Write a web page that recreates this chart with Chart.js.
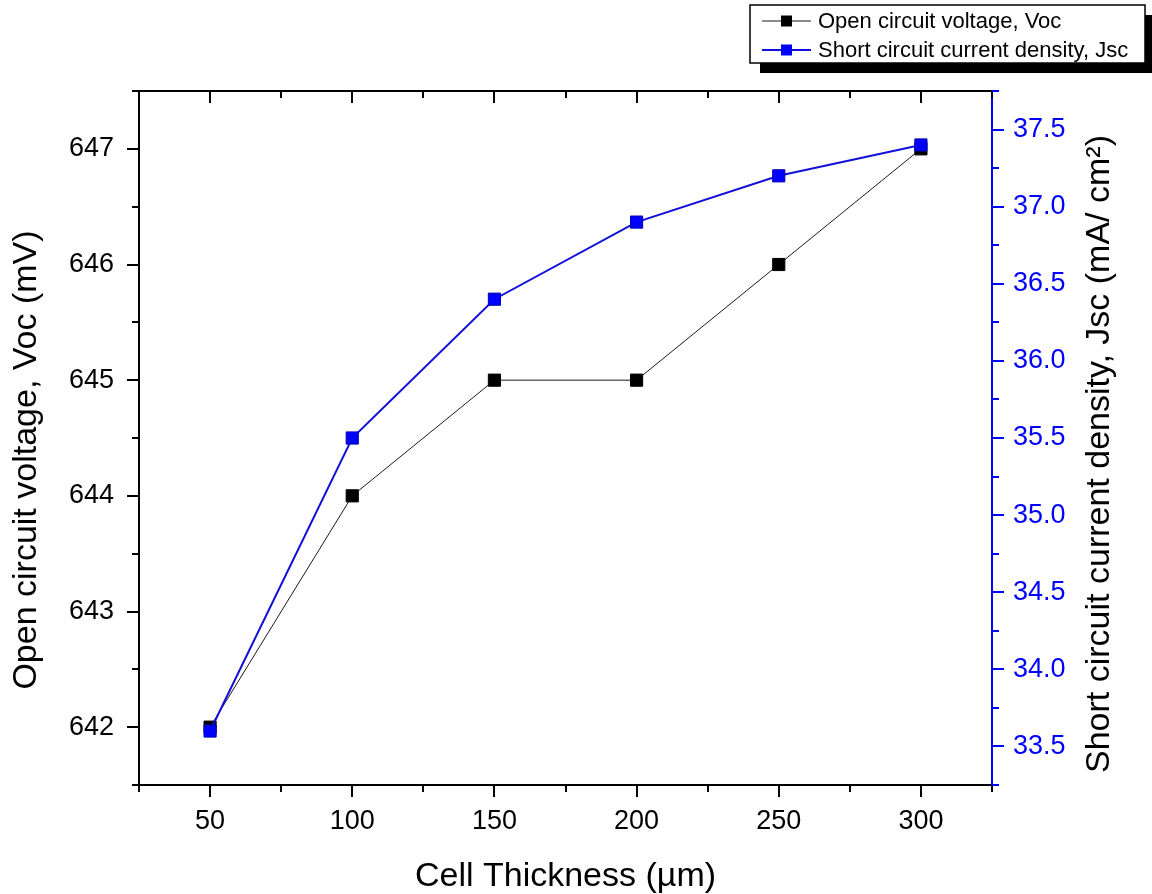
<!DOCTYPE html>
<html>
<head>
<meta charset="utf-8">
<script src="https://cdn.jsdelivr.net/npm/chart.js@4/dist/chart.umd.min.js"></script>
<style>
  html, body { margin: 0; padding: 0; background: #ffffff; }
  #wrap { width: 1152px; height: 894px; }
</style>
</head>
<body>
<div id="wrap"><canvas id="c" width="1152" height="894"></canvas></div>
<script>
// ---- Data ----
const thickness = [50, 100, 150, 200, 250, 300];           // Cell thickness (µm)
const vocValues = [642, 644, 645, 645, 646, 647];           // Open circuit voltage (mV)
const jscValues = [33.6, 35.5, 36.4, 36.9, 37.2, 37.4];     // Short circuit current density (mA/cm²)

// ---- Tick labels / axis ticks ----
const xMajorTicks = [50, 100, 150, 200, 250, 300];
const xMinorTicks = [25, 75, 125, 175, 225, 275, 325];
const vocMajorTicks = [642, 643, 644, 645, 646, 647];
const vocMinorTicks = [641.5, 642.5, 643.5, 644.5, 645.5, 646.5, 647.5];
const jscMajorTicks = [33.5, 34.0, 34.5, 35.0, 35.5, 36.0, 36.5, 37.0, 37.5];
const jscMinorTicks = [33.25, 33.75, 34.25, 34.75, 35.25, 35.75, 36.25, 36.75, 37.25, 37.75];

const seriesLabels = ['Open circuit voltage, Voc', 'Short circuit current density, Jsc'];
const xTitle = 'Cell Thickness (\u00b5m)';
const leftTitle = 'Open circuit voltage, Voc (mV)';
const rightTitle = 'Short circuit current density, Jsc (mA/ cm\u00b2)';

const FONT = "'Liberation Sans', Arial, sans-serif";
const BLUE = '#0000ff';

const toPoints = (xs, ys) => xs.map((x, i) => ({ x: x, y: ys[i] }));

const axisDecor = {
  id: 'axisDecor',
  afterDraw(chart) {
    const ctx = chart.ctx;
    const ca = chart.chartArea;
    const xs = chart.scales.x, yl = chart.scales.yVoc, yr = chart.scales.yJsc;
    const MAJ = 12, MIN = 7;
    ctx.save();
    ctx.lineCap = 'butt';
    // top frame line
    ctx.strokeStyle = '#000';
    ctx.lineWidth = 2;
    ctx.beginPath();
    ctx.moveTo(ca.left - 1, ca.top);
    ctx.lineTo(ca.right, ca.top);
    ctx.stroke();
    // x ticks (bottom outward, top inward)
    const xt = (v, len) => {
      const p = Math.round(xs.getPixelForValue(v));
      ctx.beginPath();
      ctx.moveTo(p, ca.bottom); ctx.lineTo(p, ca.bottom + len);
      ctx.moveTo(p, ca.top); ctx.lineTo(p, ca.top + len);
      ctx.stroke();
    };
    xMajorTicks.forEach(v => xt(v, MAJ));
    xMinorTicks.forEach(v => xt(v, MIN));
    // left ticks
    const lt = (v, len) => {
      const p = Math.round(yl.getPixelForValue(v));
      ctx.beginPath();
      ctx.moveTo(ca.left, p); ctx.lineTo(ca.left - len, p);
      ctx.stroke();
    };
    vocMajorTicks.forEach(v => lt(v, MAJ));
    vocMinorTicks.forEach(v => lt(v, MIN));
    // right ticks (blue)
    ctx.strokeStyle = BLUE;
    const rt = (v, len) => {
      const p = Math.round(yr.getPixelForValue(v));
      ctx.beginPath();
      ctx.moveTo(ca.right, p); ctx.lineTo(ca.right + len, p);
      ctx.stroke();
    };
    jscMajorTicks.forEach(v => rt(v, MAJ));
    jscMinorTicks.forEach(v => rt(v, MIN));

    // y titles (both read bottom-to-top)
    ctx.fillStyle = '#000';
    ctx.font = '34px ' + FONT;
    ctx.textAlign = 'center';
    ctx.textBaseline = 'middle';
    ctx.save();
    ctx.translate(27, 460);
    ctx.rotate(-Math.PI / 2);
    ctx.fillText(leftTitle, 0, 0);
    ctx.restore();
    ctx.save();
    ctx.translate(1100, 454);
    ctx.rotate(-Math.PI / 2);
    ctx.fillText(rightTitle, 0, 0);
    ctx.restore();

    // legend box with shadow
    const bx = 750, by = 5, bw = 395, bh = 58;
    ctx.fillStyle = '#000';
    ctx.fillRect(bx + 10, by + 10, bw, bh);
    ctx.fillStyle = '#fff';
    ctx.fillRect(bx, by, bw, bh);
    ctx.strokeStyle = '#000';
    ctx.lineWidth = 1.5;
    ctx.strokeRect(bx, by, bw, bh);
    const rows = [21, 50];
    chart.data.datasets.forEach((ds, i) => {
      const y = rows[i];
      ctx.strokeStyle = ds.borderColor;
      ctx.lineWidth = i === 0 ? 1 : 2;
      ctx.beginPath();
      ctx.moveTo(762, y); ctx.lineTo(811, y);
      ctx.stroke();
      ctx.fillStyle = ds.pointBackgroundColor;
      ctx.fillRect(781, y - 5.5, 11, 11);
      ctx.fillStyle = '#000';
      ctx.font = '22px ' + FONT;
      ctx.textAlign = 'left';
      ctx.textBaseline = 'middle';
      ctx.fillText(ds.label, 818, y + 1);
    });
    ctx.restore();
  }
};

new Chart(document.getElementById('c'), {
  type: 'line',
  data: {
    datasets: [
      {
        label: seriesLabels[0],
        data: toPoints(thickness, vocValues),
        yAxisID: 'yVoc',
        borderColor: '#1a1a1a',
        borderWidth: 1,
        pointStyle: 'rect',
        pointRadius: 8.6,
        pointBackgroundColor: '#000000',
        pointBorderColor: '#000000',
        pointBorderWidth: 1,
        tension: 0,
        order: 2
      },
      {
        label: seriesLabels[1],
        data: toPoints(thickness, jscValues),
        yAxisID: 'yJsc',
        borderColor: '#1010d8',
        borderWidth: 2,
        pointStyle: 'rect',
        pointRadius: 8.6,
        pointBackgroundColor: BLUE,
        pointBorderColor: '#0000b0',
        pointBorderWidth: 1,
        tension: 0,
        order: 1
      }
    ]
  },
  options: {
    responsive: false,
    animation: false,
    devicePixelRatio: 1,
    layout: { padding: { top: 91, left: 0, right: 0, bottom: 0 } },
    plugins: { legend: { display: false }, tooltip: { enabled: false }, title: { display: false } },
    scales: {
      x: {
        type: 'linear',
        position: 'bottom',
        min: 25, max: 325,
        afterBuildTicks: s => { s.ticks = xMajorTicks.map(v => ({ value: v })); },
        afterFit: s => { s.height = 109; },
        grid: { display: false, drawTicks: false },
        border: { display: true, color: '#000', width: 2 },
        ticks: { color: '#000', font: { family: FONT, size: 27 }, padding: 20, maxRotation: 0, autoSkip: false },
        title: { display: true, text: xTitle, color: '#000', font: { family: FONT, size: 34, lineHeight: 1 }, padding: { top: 0, bottom: 0 } }
      },
      yVoc: {
        type: 'linear',
        position: 'left',
        min: 641.5, max: 647.5,
        afterBuildTicks: s => { s.ticks = vocMajorTicks.map(v => ({ value: v })); },
        afterFit: s => { s.width = 139; },
        grid: { display: false, drawTicks: false },
        border: { display: true, color: '#000', width: 2 },
        ticks: { color: '#000', font: { family: FONT, size: 27 }, padding: 25, autoSkip: false, callback: v => String(v) }
      },
      yJsc: {
        type: 'linear',
        position: 'right',
        min: 33.25, max: 37.75,
        afterBuildTicks: s => { s.ticks = jscMajorTicks.map(v => ({ value: v })); },
        afterFit: s => { s.width = 160; },
        grid: { display: false, drawTicks: false },
        border: { display: true, color: BLUE, width: 2 },
        ticks: { color: BLUE, font: { family: FONT, size: 27 }, padding: 21, autoSkip: false, callback: v => Number(v).toFixed(1) }
      }
    }
  },
  plugins: [axisDecor]
});
</script>
</body>
</html>
